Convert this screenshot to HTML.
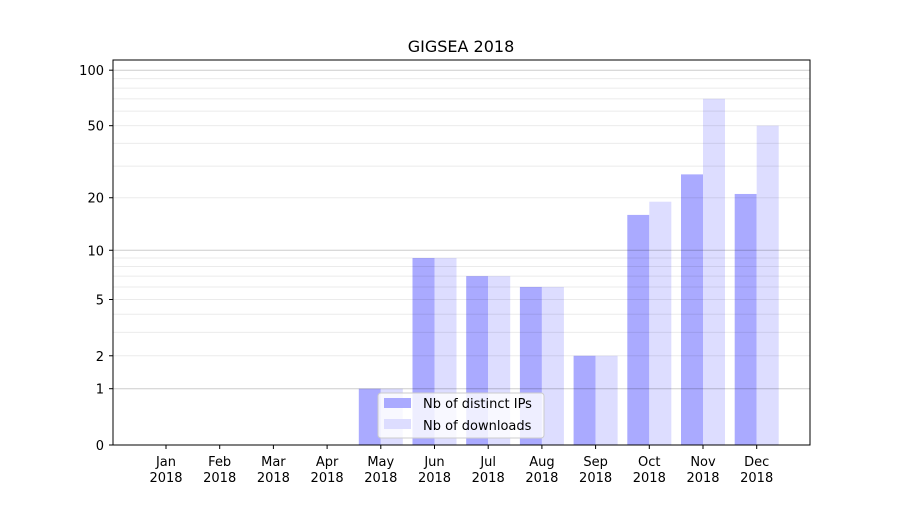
<!DOCTYPE html><html><head><style>body{margin:0;background:#fff}svg{font-family:"DejaVu Sans","Liberation Sans",sans-serif}</style></head><body>
<svg width="900" height="500" xmlns="http://www.w3.org/2000/svg">
<rect width="900" height="500" fill="#fff"/>
<text x="461" y="52" font-size="16" text-anchor="middle">GIGSEA 2018</text>
<g id="bars"></g>
<g id="grid"></g>
<rect x="113" y="60" width="697" height="385" fill="none" stroke="#000" stroke-width="1"/>
<g id="ticks" font-size="13"></g>
<g>
<rect x="378" y="393" width="166" height="45" rx="3" fill="#fff" fill-opacity="0.8" stroke="#ccc"/>
<rect x="384" y="398" width="27" height="10" fill="#aaaaff"/>
<rect x="384" y="419" width="27" height="10" fill="#ddddff"/>
<text x="423" y="408" font-size="13">Nb of distinct IPs</text>
<text x="423" y="430" font-size="13">Nb of downloads</text>
</g>
<script>
const Y=v=>445-187*Math.log10(1+v);
const ns="http://www.w3.org/2000/svg";
function el(p,t,a,txt){const e=document.createElementNS(ns,t);for(const k in a)e.setAttribute(k,a[k]);if(txt!==undefined)e.textContent=txt;document.getElementById(p).appendChild(e);}
const ip=[0,0,0,0,1,9,7,6,2,16,27,21],dl=[0,0,0,0,1,9,7,6,2,19,70,50];
const m=["Jan","Feb","Mar","Apr","May","Jun","Jul","Aug","Sep","Oct","Nov","Dec"];
for(let i=0;i<12;i++){const c=166+i*53.7;
if(ip[i])el("bars","rect",{x:c-22,y:Y(ip[i]),width:22,height:445-Y(ip[i]),fill:"#aaaaff"});
if(dl[i])el("bars","rect",{x:c,y:Y(dl[i]),width:22,height:445-Y(dl[i]),fill:"#ddddff"});
el("ticks","line",{x1:c,x2:c,y1:445,y2:449,stroke:"#000"});
el("ticks","text",{x:c,y:466,"text-anchor":"middle"},m[i]);
el("ticks","text",{x:c,y:482,"text-anchor":"middle"},"2018");}
[2,3,4,5,6,7,8,9,20,30,40,50,60,70,80,90].forEach(v=>el("grid","line",{x1:113,x2:810,y1:Y(v),y2:Y(v),stroke:"#000","stroke-opacity":0.08}));
[1,10,100].forEach(v=>el("grid","line",{x1:113,x2:810,y1:Y(v),y2:Y(v),stroke:"#000","stroke-opacity":0.2}));
[0,1,2,5,10,20,50,100].forEach(v=>{const y=Y(v);el("ticks","line",{x1:109,x2:113,y1:y,y2:y,stroke:"#000"});el("ticks","text",{x:104,y:y+5,"text-anchor":"end"},v);});
</script>
</svg></body></html>
